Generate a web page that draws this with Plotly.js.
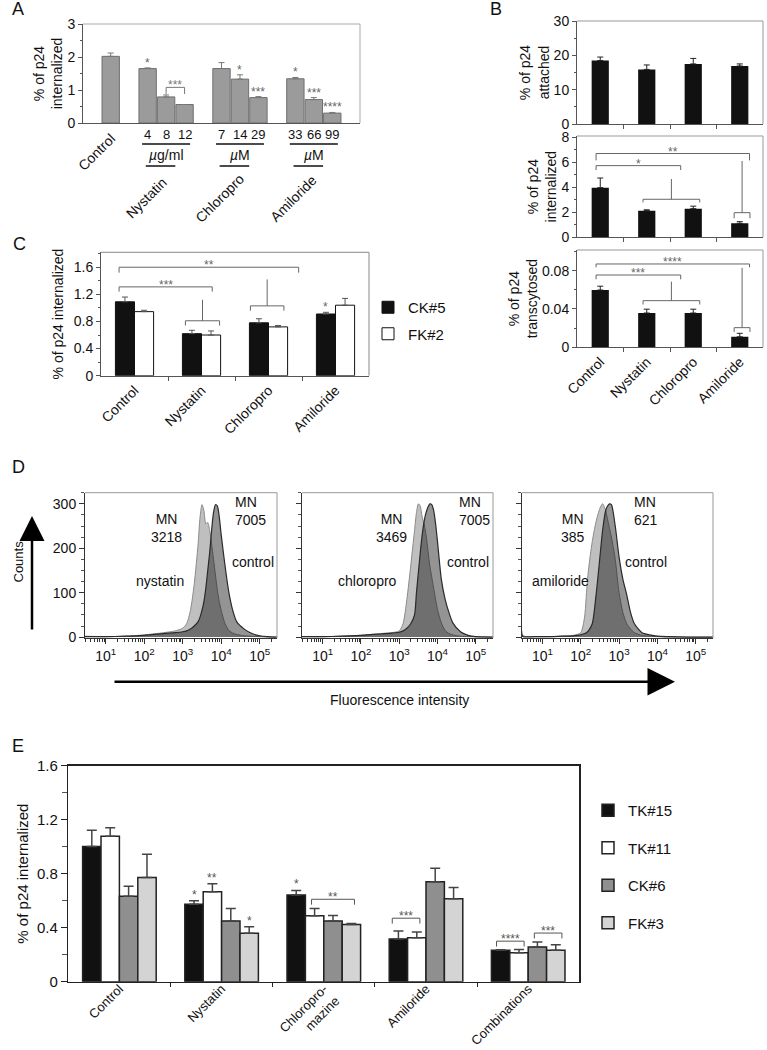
<!DOCTYPE html>
<html>
<head>
<meta charset="utf-8">
<script src="https://cdn.plot.ly/plotly-3.0.1.min.js"></script>
<style>
  html, body { margin: 0; padding: 0; background: #fff; }
  #fig { width: 767px; height: 1050px; }
</style>
</head>
<body>
<div id="fig"></div>
<script>
var FONT = "Liberation Sans, Arial, Helvetica, sans-serif";
var W = 767, H = 1050;

/* ---------- A: dose series ---------- */
var aGroups = ["Control", "Nystatin", "Chloropro", "Amiloride"];
var aUnits = ["", "<i>µ</i>g/ml", "<i>µ</i>M", "<i>µ</i>M"];
var aDoses = [[""], ["4", "8", "12"], ["7", "14", "29"], ["33", "66", "99"]];
var aValues = [[2.02], [1.65, 0.79, 0.56], [1.65, 1.33, 0.77], [1.34, 0.71, 0.30]];
var aErrors = [[0.10], [0.02, 0.06, 0.0], [0.18, 0.13, 0.03], [0.04, 0.06, 0.02]];
var aStars = [[""], ["*", "", ""], ["", "*", "***"], ["*", "***", "****"]];

/* ---------- B: three stacked panels ---------- */
var bCats = ["Control", "Nystatin", "Chloropro", "Amiloride"];
var bAttached = [18.5, 15.9, 17.5, 16.9];
var bAttachedErr = [1.0, 1.3, 1.6, 0.6];
var bInternalized = [3.97, 2.13, 2.29, 1.12];
var bInternalizedErr = [0.77, 0.07, 0.2, 0.13];
var bTranscytosed = [0.0598, 0.0358, 0.0358, 0.011];
var bTranscytosedErr = [0.004, 0.004, 0.004, 0.0036];
var bInternalizedBr = [
  {x0: -0.09, x1: 3.21, y: 6.7, drop: 0.55, label: "**"},
  {x0: -0.09, x1: 1.73, y: 5.73, drop: 0.35, label: "*"},
  {x0: 0.92, x1: 2.14, y: 3.04, drop: 0.25, stem: 4.66},
  {x0: 2.88, x1: 3.22, y: 1.97, drop: 0.45, stem: 6.1}
];
var bTranscytosedBr = [
  {x0: -0.09, x1: 3.21, y: 0.087, drop: 0.0035, label: "****"},
  {x0: -0.09, x1: 1.73, y: 0.0755, drop: 0.0045, label: "***"},
  {x0: 0.92, x1: 2.14, y: 0.0487, drop: 0.004, stem: 0.0685},
  {x0: 2.88, x1: 3.22, y: 0.0205, drop: 0.0045, stem: 0.083}
];

/* ---------- C ---------- */
var cCats = ["Control", "Nystatin", "Chloropro", "Amiloride"];
var cSeries = ["CK#5", "FK#2"];
var cValues = [[1.09, 0.62, 0.78, 0.91], [0.945, 0.60, 0.72, 1.04]];
var cErrors = [[0.07, 0.05, 0.06, 0.025], [0.02, 0.06, 0.02, 0.10]];
var cStars = [["", "", "", "*"], ["", "", "", ""]];
var cBrackets = [
  {x0: -0.23, x1: 2.45, y: 1.6, drop: 0.08, label: "**"},
  {x0: -0.23, x1: 1.16, y: 1.31, drop: 0.07, label: "***"},
  {x0: 0.76, x1: 1.27, y: 0.81, drop: 0.07, stem: 1.12},
  {x0: 1.73, x1: 2.23, y: 1.03, drop: 0.07, stem: 1.42}
];

/* ---------- D: flow histograms (x = log10 intensity) ---------- */
var dLog12 = [0.46, 1.0, 1.5, 2.0, 2.5, 2.8, 3.0, 3.1, 3.2, 3.3, 3.4, 3.45, 3.5, 3.55, 3.6, 3.65, 3.7, 3.75, 3.8, 3.85, 3.9, 3.95, 4.0, 4.1, 4.2, 4.3, 4.4, 4.6, 4.8, 5.0, 5.2, 5.45];
var dNystatin = [2, 1, 2, 5, 10, 14, 20, 30, 60, 120, 210, 270, 298, 285, 255, 258, 240, 210, 175, 140, 105, 80, 60, 30, 15, 9, 6, 3, 2, 1, 0, 0];
var dControl1 = [1, 1, 2, 4, 8, 10, 12, 14, 18, 25, 35, 45, 60, 80, 110, 150, 190, 240, 280, 298, 295, 270, 230, 160, 100, 60, 35, 18, 8, 3, 1, 0];
var dChloropro = [1, 1, 2, 4, 8, 10, 14, 30, 85, 160, 240, 280, 300, 295, 270, 255, 230, 195, 160, 135, 110, 85, 62, 32, 15, 8, 5, 2, 1, 0.5, 0, 0];
var dControl2 = [1, 1, 2, 4, 7, 9, 11, 14, 20, 30, 50, 100, 145, 190, 230, 260, 280, 292, 300, 298, 285, 255, 215, 130, 85, 55, 32, 12, 4, 1, 0.5, 0];
var dLog3 = [0.46, 0.5, 0.8, 1.2, 1.5, 1.8, 2.0, 2.1, 2.15, 2.2, 2.3, 2.4, 2.5, 2.57, 2.65, 2.7, 2.75, 2.8, 2.9, 3.0, 3.1, 3.2, 3.3, 3.4, 3.6, 3.8, 4.0, 4.3, 4.8, 5.45];
var dAmiloride = [15, 3, 1, 1, 2, 4, 10, 45, 100, 150, 215, 260, 290, 300, 285, 265, 245, 225, 175, 100, 55, 30, 18, 10, 4, 2, 1, 0, 0, 0];
var dControl3 = [6, 1, 1, 1, 2, 3, 5, 8, 10, 14, 30, 95, 180, 240, 285, 295, 300, 298, 250, 180, 130, 95, 55, 30, 10, 5, 2, 1, 0, 0];
var dSamples = ["nystatin", "chloropro", "amiloride"];
var dSampleMN = ["3218", "3469", "385"];
var dControlMN = ["7005", "7005", "621"];

/* ---------- E ---------- */
var eCats = ["Control", "Nystatin", "Chloropro-<br>mazine", "Amiloride", "Combinations"];
var eSeries = ["TK#15", "TK#11", "CK#6", "FK#3"];
var eValues = [
  [1.0, 0.574, 0.641, 0.316, 0.232],
  [1.077, 0.665, 0.488, 0.325, 0.214],
  [0.633, 0.449, 0.449, 0.739, 0.256],
  [0.772, 0.358, 0.424, 0.613, 0.232]
];
var eErrors = [
  [0.12, 0.026, 0.034, 0.059, 0.005],
  [0.063, 0.059, 0.054, 0.042, 0.025],
  [0.074, 0.093, 0.041, 0.10, 0.037],
  [0.172, 0.049, 0.006, 0.085, 0.041]
];
var eStars = [["", "*", "*", "", ""], ["", "**", "", "", ""], ["", "", "", "", ""], ["", "*", "", "", ""]];
var eBrackets = [
  {x0: 1.88, x1: 2.30, y: 0.61, drop: 0.04, label: "**"},
  {x0: 2.67, x1: 2.94, y: 0.47, drop: 0.04, label: "***"},
  {x0: 3.69, x1: 3.96, y: 0.30, drop: 0.04, label: "****"},
  {x0: 4.06, x1: 4.33, y: 0.36, drop: 0.04, label: "***"}
];

/* ---------- helpers ---------- */
function dx(a, b) { return [a / W, b / W]; }
function dy(top, bot) { return [1 - bot / H, 1 - top / H]; }
function px(x) { return x / W; }
function py(y) { return 1 - y / H; }
function zeros(a) { return a.map(function () { return 0; }); }
function flat(a) { return [].concat.apply([], a); }
function errY(arr, color, th, w) {
  return {type: "data", array: arr, arrayminus: zeros(arr), symmetric: false, color: color, thickness: th, width: w};
}
function bounds(n) { var v = []; for (var i = 0; i < n - 1; i++) v.push(i + 0.5); return v; }
function idx(n) { var v = []; for (var i = 0; i < n; i++) v.push(i); return v; }
function mn(d, len) { return {dtick: d, ticks: "outside", ticklen: len || 2, tickcolor: "#555"}; }

var traces = [], shapes = [], ann = [];

function bracket(n, b, color, fs) {
  var xa = "x" + n, ya = "y" + n;
  function seg(x, y) {
    traces.push({x: x, y: y, xaxis: xa, yaxis: ya, mode: "lines", line: {color: color, width: 1},
      hoverinfo: "skip", showlegend: false});
  }
  seg([b.x0, b.x0, b.x1, b.x1], [b.y - b.drop, b.y, b.y, b.y - b.drop]);
  var m = (b.x0 + b.x1) / 2;
  if (b.stem !== undefined) seg([m, m], [b.y, b.stem]);
  if (b.label) ann.push({xref: xa, yref: ya, x: m, y: b.y, text: b.label, showarrow: false,
    yanchor: "bottom", yshift: -7, font: {size: fs, color: color}});
}
function star(n, x, y, s, color, shift) {
  ann.push({xref: "x" + n, yref: "y" + n, x: x, y: y, text: s, showarrow: false,
    yanchor: "bottom", yshift: shift, font: {size: 12, color: color}});
}
function frame(n, color) {
  var xr = "x" + n + " domain", yr = "y" + n + " domain";
  shapes.push({type: "line", xref: xr, yref: yr, x0: 0, x1: 1, y0: 1, y1: 1, line: {color: color, width: 1}});
  shapes.push({type: "line", xref: xr, yref: yr, x0: 1, x1: 1, y0: 0, y1: 1, line: {color: color, width: 1}});
}
function axis(o) {
  return Object.assign({
    showgrid: false, zeroline: false, showline: true, linecolor: "#555", linewidth: 1,
    ticks: "outside", ticklen: 4, tickwidth: 1, tickcolor: "#555",
    tickfont: {size: 14, color: "#111"}, fixedrange: true
  }, o);
}

var layout = {
  width: W, height: H, margin: {l: 0, r: 0, t: 0, b: 0},
  paper_bgcolor: "#fff", plot_bgcolor: "rgba(0,0,0,0)",
  font: {family: FONT, size: 14, color: "#111"},
  barmode: "overlay", hovermode: false,
  legend: {x: px(368), xanchor: "left", y: py(291), yanchor: "top", bgcolor: "rgba(0,0,0,0)",
    font: {size: 15}, tracegroupgap: 4, itemclick: false},
  legend2: {x: px(588), xanchor: "left", y: py(794), yanchor: "top", bgcolor: "rgba(0,0,0,0)",
    font: {size: 15}, tracegroupgap: 15, itemclick: false}
};

/* ================= A ================= */
var aX = [], slot = 0;
aDoses.forEach(function (d) { var xs = []; d.forEach(function () { xs.push(slot++); }); aX.push(xs); slot++; });
traces.push({type: "bar", x: flat(aX), y: flat(aValues), width: 0.94, xaxis: "x", yaxis: "y",
  marker: {color: "#9b9b9b", line: {color: "#6f6f6f", width: 1}},
  error_y: errY(flat(aErrors), "#777", 1, 3), showlegend: false, hoverinfo: "skip"});
aStars.forEach(function (g, i) {
  g.forEach(function (s, j) { if (s) star("", aX[i][j], aValues[i][j] + aErrors[i][j], s, "#666", -4); });
});
bracket("", {x0: aX[1][1], x1: aX[1][2], y: 1.08, drop: 0.2, label: "***"}, "#777", 12);
aGroups.forEach(function (g, i) {
  var xs = aX[i], mid = xs[(xs.length - 1) / 2];
  if (xs.length === 1) {
    ann.push({xref: "x", yref: "paper", x: mid, xshift: -14, y: py(152), text: g, textangle: -45,
      showarrow: false, xanchor: "center", yanchor: "middle", font: {size: 14}});
    return;
  }
  xs.forEach(function (x, j) {
    ann.push({xref: "x", yref: "paper", x: x, y: py(134), text: aDoses[i][j], showarrow: false,
      xanchor: "center", yanchor: "middle", font: {size: 13}});
  });
  shapes.push({type: "line", xref: "x", yref: "paper", x0: xs[0] - 0.3, x1: xs[xs.length - 1] + 0.3,
    y0: py(144), y1: py(144), line: {color: "#111", width: 1.5}});
  ann.push({xref: "x", yref: "paper", x: mid, y: py(155), text: aUnits[i], showarrow: false,
    xanchor: "center", yanchor: "middle", font: {size: 14}});
  shapes.push({type: "line", xref: "x", yref: "paper", x0: mid - 1.1, x1: mid + 0.5,
    y0: py(166), y1: py(166), line: {color: "#111", width: 1.5}});
  ann.push({xref: "x", yref: "paper", x: mid, xshift: -20, y: py(198), text: g, textangle: -45,
    showarrow: false, xanchor: "center", yanchor: "middle", font: {size: 14}});
});
layout.xaxis = axis({domain: dx(83, 360), anchor: "y", range: [-1.5, 13.5], showticklabels: false, ticks: ""});
layout.yaxis = axis({domain: dy(24, 123), anchor: "x", range: [0, 3], tick0: 0, dtick: 1, minor: mn(0.5),
  title: {text: "% of p24<br>internalized", font: {size: 14}}});
frame("", "#aaa");

/* ================= B ================= */
var bPanels = [
  {n: "2", v: bAttached, e: bAttachedErr, top: 21, bot: 124, range: [0, 30], dtick: 10, minor: 5,
    title: "% of p24<br>attached", br: []},
  {n: "3", v: bInternalized, e: bInternalizedErr, top: 136, bot: 237.3, range: [0, 8.1], dtick: 2, minor: 1,
    title: "% of p24<br>internalized", br: bInternalizedBr},
  {n: "4", v: bTranscytosed, e: bTranscytosedErr, top: 250, bot: 347.3, range: [0, 0.1016], dtick: 0.04, minor: 0.02,
    title: "% of p24<br>transcytosed", br: bTranscytosedBr}
];
bPanels.forEach(function (p) {
  traces.push({type: "bar", x: idx(bCats.length), y: p.v, width: 0.37, xaxis: "x" + p.n, yaxis: "y" + p.n,
    marker: {color: "#111", line: {color: "#111", width: 0}}, error_y: errY(p.e, "#222", 1, 3),
    showlegend: false, hoverinfo: "skip"});
  p.br.forEach(function (b) { bracket(p.n, b, "#666", 12); });
  layout["xaxis" + p.n] = axis({domain: dx(577, 763), anchor: "y" + p.n, range: [-0.5, 3.5],
    tickvals: idx(bCats.length), ticktext: bCats, showticklabels: p.n === "4", ticks: "", tickangle: -45,
    minor: {tickmode: "array", tickvals: bounds(bCats.length), ticks: "outside", ticklen: 4, tickcolor: "#555"}});
  layout["yaxis" + p.n] = axis({domain: dy(p.top, p.bot), anchor: "x" + p.n, range: p.range, tick0: 0,
    dtick: p.dtick, minor: mn(p.minor), title: {text: p.title, font: {size: 14}}});
  frame(p.n, "#999");
});

/* ================= C ================= */
var cW = 0.285, cColors = ["#111", "#fff"];
cSeries.forEach(function (s, k) {
  var off = (k - cSeries.length / 2) * cW;
  traces.push({type: "bar", name: s, legend: "legend", legendgroup: s, x: idx(cCats.length), y: cValues[k],
    width: cW, offset: off, xaxis: "x5", yaxis: "y5",
    marker: {color: cColors[k], line: {color: "#111", width: 1}}, error_y: errY(cErrors[k], "#555", 1, 3),
    hoverinfo: "skip"});
  cStars[k].forEach(function (st, g) {
    if (st) star("5", g + off + cW / 2, cValues[k][g] + cErrors[k][g], st, "#666", -4);
  });
});
cBrackets.forEach(function (b) { bracket("5", b, "#666", 12); });
layout.xaxis5 = axis({domain: dx(101, 369), anchor: "y5", range: [-0.5, 3.5], tickvals: idx(cCats.length),
  ticktext: cCats, ticks: "", tickangle: -45,
  minor: {tickmode: "array", tickvals: bounds(cCats.length), ticks: "outside", ticklen: 4, tickcolor: "#555"}});
layout.yaxis5 = axis({domain: dy(252.3, 375.7), anchor: "x5", range: [0, 1.82], tick0: 0, dtick: 0.4, minor: mn(0.2),
  title: {text: "% of p24 internalized", font: {size: 14}}});
frame("5", "#888");

/* ================= D ================= */
var dPanels = [
  {n: "6", dom: dx(85, 277), x: dLog12, s: dNystatin, c: dControl1, pos: [2.57, 4.30, 2.41, 4.82]},
  {n: "7", dom: dx(302, 493), x: dLog12, s: dChloropro, c: dControl2, pos: [2.80, 4.51, 2.17, 4.79]},
  {n: "8", dom: dx(521.7, 713), x: dLog3, s: dAmiloride, c: dControl3, pos: [1.80, 3.33, 1.47, 3.71]}
];
var decTicks = [1, 2, 3, 4, 5], minorLog = [];
for (var d = 0; d <= 5; d++) for (var k = 2; k <= 9; k++) {
  var lv = d + Math.log10(k); if (lv > 0.46 && lv < 5.45) minorLog.push(lv);
}
dPanels.forEach(function (p, i) {
  var xa = "x" + p.n, ya = "y" + p.n;
  traces.push({x: p.x, y: p.s, xaxis: xa, yaxis: ya, mode: "lines", fill: "tozeroy",
    fillcolor: "rgba(0,0,0,0.25)", line: {color: "#8a8a8a", width: 1, shape: "spline", smoothing: 0.7},
    showlegend: false, hoverinfo: "skip"});
  traces.push({x: p.x, y: p.c, xaxis: xa, yaxis: ya, mode: "lines", fill: "tozeroy",
    fillcolor: "rgba(0,0,0,0.42)", line: {color: "#2a2a2a", width: 1.2, shape: "spline", smoothing: 0.7},
    showlegend: false, hoverinfo: "skip"});
  function lab(x, y, t, xan) {
    ann.push({xref: xa, yref: ya, x: x, y: y, text: t, showarrow: false, xanchor: xan, yanchor: "middle",
      align: xan === "left" ? "left" : "center", font: {size: 14}});
  }
  lab(p.pos[0], 246, "MN<br>" + dSampleMN[i], "center");
  lab(p.pos[1], 284, "MN<br>" + dControlMN[i], "left");
  lab(p.pos[2], 127, dSamples[i], "center");
  lab(p.pos[3], 168, "control", "center");
  layout["xaxis" + p.n] = axis({domain: p.dom, anchor: ya, range: [0.46, 5.45], tickvals: decTicks,
    ticktext: decTicks.map(function (e) { return "10<sup>" + e + "</sup>"; }), ticklen: 5, linecolor: "#333",
    tickcolor: "#333", minor: {tickmode: "array", tickvals: minorLog, ticks: "outside", ticklen: 3, tickcolor: "#333"}});
  layout["yaxis" + p.n] = axis({domain: dy(492.7, 638), anchor: xa, range: [-2, 325], tick0: 0, dtick: 100,
    ticklen: 5, linecolor: "#333", tickcolor: "#333", showticklabels: i === 0, minor: mn(25, 3)});
  frame(p.n, "#999");
});
ann.push({xref: "paper", yref: "paper", x: px(8), y: py(562), text: "Counts", textangle: -90, showarrow: false,
  font: {size: 13}});
ann.push({xref: "paper", yref: "paper", x: px(32), y: py(516), ax: 0, ay: 115, text: "", showarrow: true,
  arrowhead: 2, arrowsize: 2, arrowwidth: 2.5, arrowcolor: "#000"});
ann.push({xref: "paper", yref: "paper", x: px(675), y: py(681.7), ax: -562, ay: 0, text: "", showarrow: true,
  arrowhead: 2, arrowsize: 2.2, arrowwidth: 2.5, arrowcolor: "#000"});
ann.push({xref: "paper", yref: "paper", x: px(399), y: py(700), text: "Fluorescence intensity", showarrow: false,
  font: {size: 14}});

/* ================= E ================= */
var eW = 0.18, eColors = ["#111", "#fff", "#8f8f8f", "#d4d4d4"];
eSeries.forEach(function (s, k) {
  var off = (k - eSeries.length / 2) * eW;
  traces.push({type: "bar", name: s, legend: "legend2", legendgroup: s, x: idx(eCats.length), y: eValues[k],
    width: eW, offset: off, xaxis: "x9", yaxis: "y9",
    marker: {color: eColors[k], line: {color: "#222", width: 1.5}}, error_y: errY(eErrors[k], "#444", 1.5, 5),
    hoverinfo: "skip"});
  eStars[k].forEach(function (st, g) {
    if (st) star("9", g + off + eW / 2, eValues[k][g] + eErrors[k][g], st, "#555", -3);
  });
});
eBrackets.forEach(function (b) { bracket("9", b, "#555", 12); });
layout.xaxis9 = axis({domain: dx(68.3, 579.3), anchor: "y9", range: [-0.5, 4.5], tickvals: idx(eCats.length),
  ticktext: eCats, ticks: "", ticklen: 0, tickangle: -45, tickfont: {size: 13, color: "#111"}, linecolor: "#222",
  linewidth: 1.5, mirror: true, ticklabelstandoff: -7,
  minor: {tickmode: "array", tickvals: bounds(eCats.length), ticks: "outside", ticklen: 4, tickcolor: "#222"}});
layout.yaxis9 = axis({domain: dy(765.5, 981.7), anchor: "x9", range: [0, 1.6], tick0: 0, dtick: 0.4, ticklen: 6,
  tickfont: {size: 15, color: "#111"}, linecolor: "#222", linewidth: 1.5, tickcolor: "#222", mirror: true,
  minor: mn(0.2, 5), title: {text: "% of p24 internalized", font: {size: 15}}});

/* ================= panel letters ================= */
[["A", 18, 9], ["B", 496, 9], ["C", 19, 244], ["D", 18, 467], ["E", 18, 746]].forEach(function (l) {
  ann.push({xref: "paper", yref: "paper", x: px(l[1]), y: py(l[2]), text: l[0], showarrow: false,
    xanchor: "center", yanchor: "middle", font: {size: 18, color: "#111"}});
});

layout.shapes = shapes;
layout.annotations = ann;
Plotly.newPlot("fig", traces, layout, {staticPlot: true, displayModeBar: false});
</script>
</body>
</html>
